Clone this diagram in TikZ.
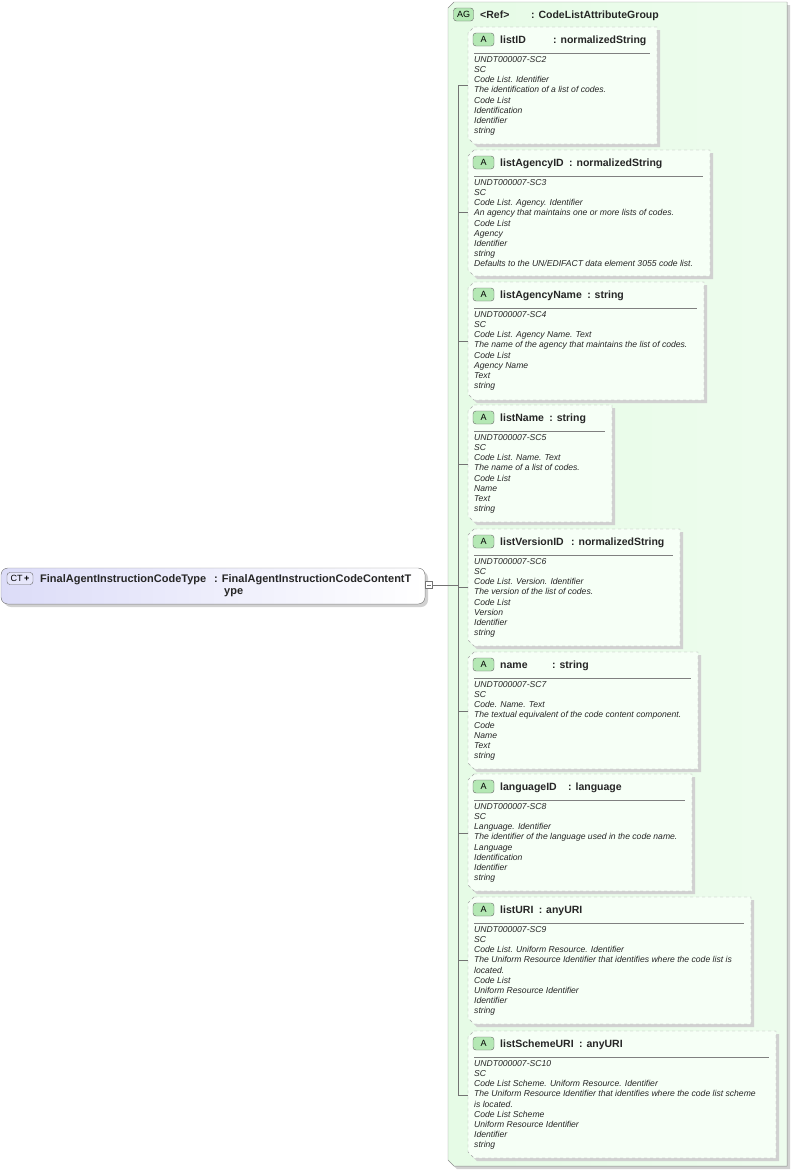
\documentclass[tikz,border=0pt]{standalone}
\usepackage{fontspec}
\setmainfont{Liberation Sans}
\usetikzlibrary{calc}
\definecolor{agfill}{HTML}{E6FBE6}
\definecolor{afill}{HTML}{F6FFF6}
\definecolor{badge}{HTML}{B4E8B4}
\definecolor{ctfill}{HTML}{DCDCF8}
\tikzset{
  hdr/.style={anchor=base west,inner sep=0,font=\fontsize{10.5}{12}\selectfont\bfseries,text=black!85},
  body/.style={anchor=north west,inner sep=0,align=left,font=\fontsize{8.6}{10.2}\selectfont\itshape,text=black!85},
  badgebox/.style={draw=black!60,fill=badge,rounded corners=3pt,minimum width=21pt,minimum height=13pt,inner sep=0,font=\fontsize{9}{10}\selectfont},
  conn/.style={draw=black!55,line width=0.6pt}
}
\newcommand{\attrbox}[8]{% top bottom right name typex type lines tick-y
  \fill[black!18] (471,#1+3) -- (#3+3,#1+3) -- (#3+3,#2+3) -- (477,#2+3) -- (471,#2-3) -- cycle;
  \filldraw[draw=black!35,dashed,fill=afill] (474,#1) -- (#3,#1) -- (#3,#2) -- (474,#2) -- (468,#2-6) -- (468,#1+6) -- cycle;
  \node[badgebox] (b#4) at (483.5,#1+12.5) {A};
  \node[hdr] (n#4) at (500,#1+16) {#4};
  \path let \p1=(n#4.base east) in node[hdr] (t#4) at ({max(#5,\x1+5)},#1+16) {: #6};
  \draw[black!50,line width=0.6pt] (474,#1+26) -- (#3-7,#1+26);
  \node[body] (d#4) at (474,#1+29) {#7};
  \coordinate (k#4) at (468,#8);
}
\begin{document}
\begin{tikzpicture}[x=1pt,y=-1pt]
\useasboundingbox (0,0) rectangle (791,1173);
% AG box
\fill[black!18] (451,5) -- (790,5) -- (790,1169) -- (457,1169) -- (451,1163) -- cycle;
\filldraw[draw=black!40,left color=agfill,right color=agfill!70!white] (454,2) -- (787,2) -- (787,1166) -- (454,1166) -- (448,1160) -- (448,8) -- cycle;
\node[badgebox,minimum width=20pt] (agb) at (463.5,14.5) {AG};
\node[hdr] (ref) at (480,18) {<Ref>};
\node[hdr] (agt) at (531,18) {: CodeListAttributeGroup};
% CT node
\fill[black!18,rounded corners=7pt] (4,571) rectangle (428,607);
\filldraw[draw=black!45,left color=ctfill,right color=white,rounded corners=7pt] (1,568) rectangle (425,604);
\node[draw=black!60,fill=ctfill!70!white,rounded corners=3pt,minimum width=26pt,minimum height=12pt,inner sep=0,font=\fontsize{9}{10}\selectfont] (ctb) at (20,578.5) {CT\,\textbf{+}};
\node[hdr,font=\fontsize{11}{12}\selectfont\bfseries] (ctn) at (40,582) {FinalAgentInstructionCodeType};
\node[hdr,font=\fontsize{11}{12}\selectfont\bfseries] (ctt) at (214,582) {: FinalAgentInstructionCodeContentT};
\node[hdr,font=\fontsize{11}{12}\selectfont\bfseries] (cty) at (224,594) {ype};
\node[draw=black!55,fill=white,minimum size=7pt,inner sep=0] (minus) at (428.5,585) {};
\draw[black!55,line width=0.5pt] (426.5,585) -- (430.5,585);
\coordinate (jn) at (458,585);
% attributes
\attrbox{27}{144}{657}{listID}{553}{normalizedString}{UNDT000007-SC2\\SC\\Code List. Identifier\\The identification of a list of codes.\\Code List\\Identification\\Identifier\\string}{85}
\attrbox{150}{276}{710}{listAgencyID}{568}{normalizedString}{UNDT000007-SC3\\SC\\Code List. Agency. Identifier\\An agency that maintains one or more lists of codes.\\Code List\\Agency\\Identifier\\string\\Defaults to the UN/EDIFACT data element 3055 code list.}{212}
\attrbox{282}{400}{704}{listAgencyName}{570}{string}{UNDT000007-SC4\\SC\\Code List. Agency Name. Text\\The name of the agency that maintains the list of codes.\\Code List\\Agency Name\\Text\\string}{341}
\attrbox{405}{522}{612}{listName}{540}{string}{UNDT000007-SC5\\SC\\Code List. Name. Text\\The name of a list of codes.\\Code List\\Name\\Text\\string}{464}
\attrbox{529}{646}{680}{listVersionID}{571}{normalizedString}{UNDT000007-SC6\\SC\\Code List. Version. Identifier\\The version of the list of codes.\\Code List\\Version\\Identifier\\string}{587}
\attrbox{652}{769}{698}{name}{552}{string}{UNDT000007-SC7\\SC\\Code. Name. Text\\The textual equivalent of the code content component.\\Code\\Name\\Text\\string}{711}
\attrbox{774}{891}{692}{languageID}{568}{language}{UNDT000007-SC8\\SC\\Language. Identifier\\The identifier of the language used in the code name.\\Language\\Identification\\Identifier\\string}{833}
\attrbox{897}{1024}{751}{listURI}{529}{anyURI}{UNDT000007-SC9\\SC\\Code List. Uniform Resource. Identifier\\The Uniform Resource Identifier that identifies where the code list is\\located.\\Code List\\Uniform Resource Identifier\\Identifier\\string}{960}
\attrbox{1031}{1158}{776}{listSchemeURI}{576}{anyURI}{UNDT000007-SC10\\SC\\Code List Scheme. Uniform Resource. Identifier\\The Uniform Resource Identifier that identifies where the code list scheme\\is located.\\Code List Scheme\\Uniform Resource Identifier\\Identifier\\string}{1095}
% connectors
\draw[conn] (minus.east) -- (jn);
\draw[conn] (klistID) -| (jn);
\draw[conn] (klistSchemeURI) -| (jn);
\foreach \k in {listAgencyID,listAgencyName,listName,listVersionID,name,languageID,listURI}{
  \draw[conn] (k\k) -- (k\k -| jn);
}
\end{tikzpicture}
\end{document}
